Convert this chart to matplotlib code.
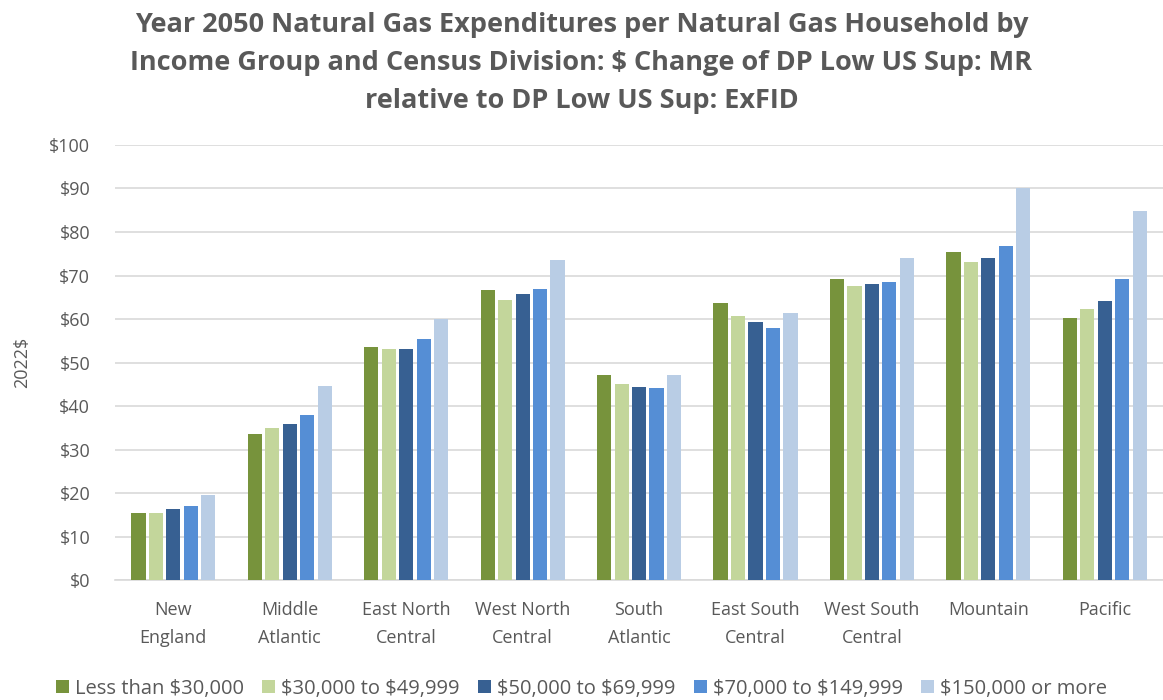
import matplotlib.pyplot as plt
import numpy as np

divisions = ["New\nEngland", "Middle\nAtlantic", "East North\nCentral", "West North\nCentral",
             "South\nAtlantic", "East South\nCentral", "West South\nCentral", "Mountain", "Pacific"]
groups = ["Less than \\$30,000", "\\$30,000 to \\$49,999", "\\$50,000 to \\$69,999",
          "\\$70,000 to \\$149,999", "\\$150,000 or more"]

less_30k = [15.4, 33.6, 53.6, 66.7, 47.1, 63.6, 69.3, 75.3, 60.2]
k30_50 = [15.4, 34.9, 53.1, 64.4, 45.0, 60.6, 67.5, 73.2, 62.3]
k50_70 = [16.3, 35.9, 53.1, 65.8, 44.5, 59.3, 68.0, 74.1, 64.1]
k70_150 = [17.1, 38.0, 55.4, 67.0, 44.1, 58.0, 68.4, 76.7, 69.3]
k150_up = [19.7, 44.6, 60.0, 73.6, 47.1, 61.5, 74.1, 90.1, 84.9]

series = [less_30k, k30_50, k50_70, k70_150, k150_up]
colors = ['#77933C', '#C3D69B', '#376092', '#558ED5', '#B9CDE5']

plt.rcParams['font.family'] = ['Open Sans', 'DejaVu Sans']
text_gray = '#595959'

fig = plt.figure(figsize=(11.63, 7.0), dpi=100)
ax = fig.add_axes([0.099, 0.171, 0.901, 0.622])

x = np.arange(len(divisions))
slot = 0.15
for i, (vals, col) in enumerate(zip(series, colors)):
    ax.bar(x + (i - 2) * slot, vals, width=0.122, color=col, label=groups[i], zorder=3)

ax.set_xlim(-0.5, len(divisions) - 0.5)
ax.set_ylim(0, 100)
ax.set_yticks(range(0, 101, 10))
ax.set_yticklabels([f"\\${v}" for v in range(0, 101, 10)])
ax.set_xticks(x)
ax.set_xticklabels(divisions, linespacing=1.7)
ax.grid(axis='y', color='#D9D9D9', linewidth=1.2, zorder=0)
for s in ['top', 'right', 'left']:
    ax.spines[s].set_visible(False)
ax.spines['bottom'].set_color('#D9D9D9')
ax.spines['bottom'].set_linewidth(1.2)
ax.tick_params(length=0, labelsize=13, colors=text_gray)
ax.tick_params(axis='x', pad=15)
ax.tick_params(axis='y', pad=18)
ax.set_ylabel("2022\\$", fontsize=13, color=text_gray)
ax.yaxis.set_label_coords(-0.08, 0.5)

fig.suptitle("Year 2050 Natural Gas Expenditures per Natural Gas Household by\n"
             "Income Group and Census Division: \\$ Change of DP Low US Sup: MR\n"
             "relative to DP Low US Sup: ExFID",
             x=0.5, y=0.983, fontsize=19.5, fontweight='bold', color=text_gray, linespacing=1.6)

fig.legend(loc='lower center', bbox_to_anchor=(0.5, -0.024), ncol=5, frameon=False,
           fontsize=14.5, handlelength=0.65, handleheight=0.65, handletextpad=0.3,
           columnspacing=0.9, labelcolor=text_gray)

plt.savefig('out.png', dpi=100)
